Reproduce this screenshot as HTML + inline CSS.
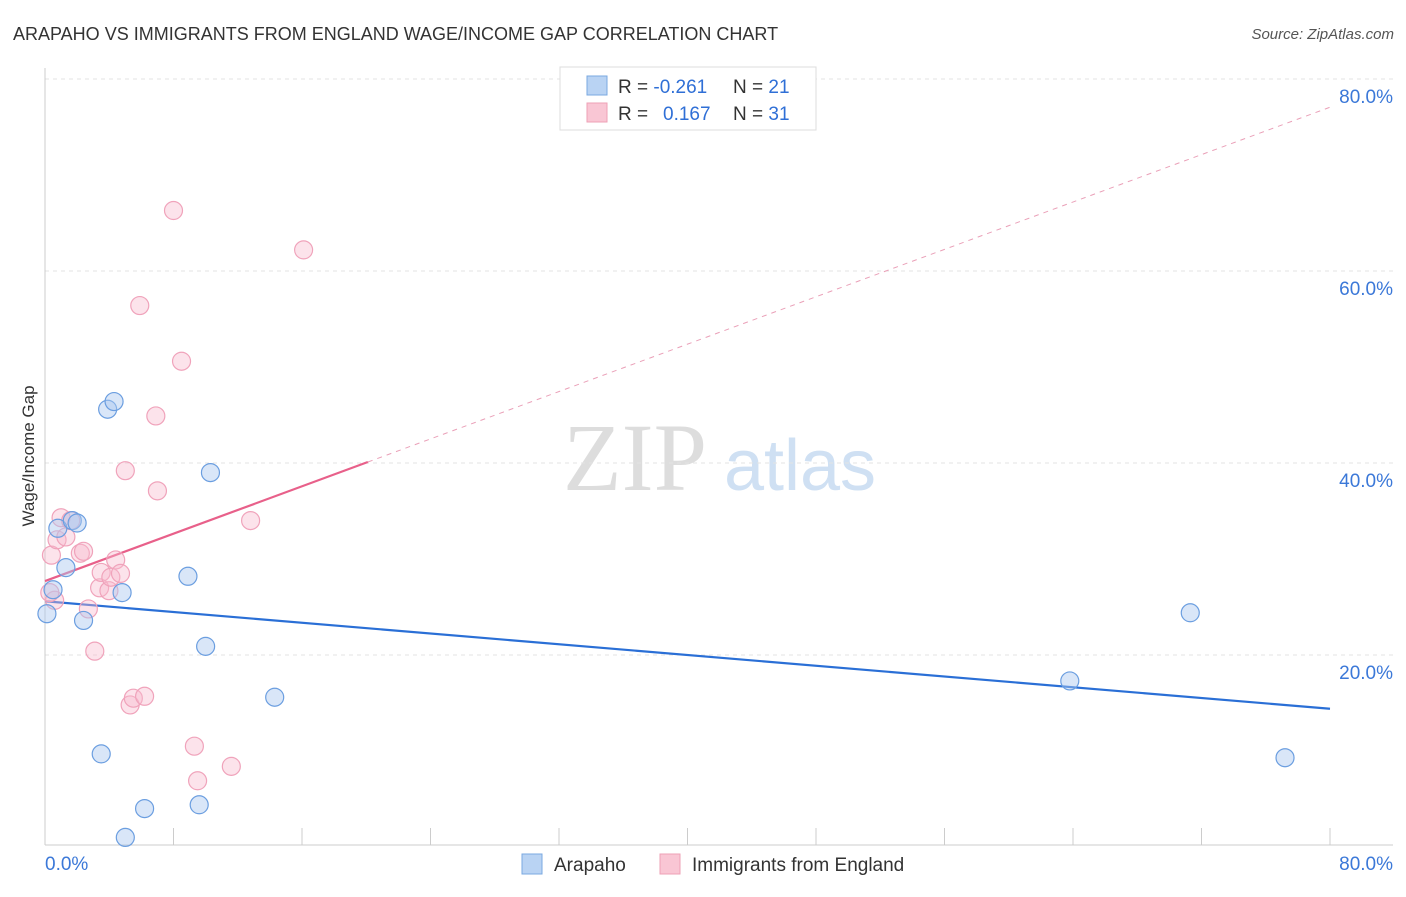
<!DOCTYPE html>
<html><head><meta charset="utf-8"><style>
body{margin:0;background:#fff;font-family:"Liberation Sans",sans-serif;}
</style></head><body>
<svg width="1406" height="892" xmlns="http://www.w3.org/2000/svg" style="font-family:'Liberation Sans',sans-serif">
<text x="13" y="40" font-size="18" fill="#333">ARAPAHO VS IMMIGRANTS FROM ENGLAND WAGE/INCOME GAP CORRELATION CHART</text>
<text x="1394" y="39" font-size="15" fill="#555" font-style="italic" text-anchor="end">Source: ZipAtlas.com</text>
<g>
<text x="635" y="490" font-size="96" fill="#ddd" font-family="Liberation Serif" text-anchor="middle">ZIP</text>
<text x="800" y="490" font-size="72" fill="#cfe0f3" text-anchor="middle">atlas</text>
</g>
<g id="grid"></g>
<g id="axes"></g>
<text transform="translate(34,456) rotate(-90)" font-size="17" fill="#333" text-anchor="middle">Wage/Income Gap</text>
<g id="lines"></g>
<g id="points"></g>
<g>
<rect x="560" y="67" width="256" height="63" fill="#fff" stroke="#ddd"/>
<rect x="587" y="76" width="20" height="19" fill="#b9d3f3" stroke="#7aa8e0"/>
<rect x="587" y="103" width="20" height="19" fill="#f9c6d4" stroke="#eea0b6"/>
<text x="618" y="93" font-size="19" fill="#333">R = <tspan fill="#2f6fd6">-0.261</tspan></text>
<text x="733" y="93" font-size="19" fill="#333">N = <tspan fill="#2f6fd6">21</tspan></text>
<text x="618" y="120" font-size="19" fill="#333">R = <tspan fill="#2f6fd6" x="663">0.167</tspan></text>
<text x="733" y="120" font-size="19" fill="#333">N = <tspan fill="#2f6fd6">31</tspan></text>
</g>
<g>
<rect x="522" y="854" width="20" height="20" fill="#b9d3f3" stroke="#7aa8e0"/>
<text x="554" y="871" font-size="19" fill="#333">Arapaho</text>
<rect x="660" y="854" width="20" height="20" fill="#f9c6d4" stroke="#eea0b6"/>
<text x="692" y="871" font-size="19" fill="#333">Immigrants from England</text>
</g>
</svg>
<script>
const blueX=[0.12,0.5,0.8,1.3,1.7,2.0,2.4,3.5,3.9,4.3,4.8,5.0,6.2,8.9,9.6,10.0,10.3,14.3,63.8,71.3,77.2];
const blueY=[24.3,26.8,33.2,29.1,34.0,33.75,23.6,9.7,45.6,46.4,26.5,1.0,4.0,28.2,4.4,20.9,39.0,15.6,17.3,24.4,9.3];
const pinkX=[0.4,0.6,0.75,1.0,1.3,1.6,2.2,2.4,2.7,3.1,3.4,3.5,3.98,4.1,4.4,4.7,5.0,5.3,5.5,5.9,6.2,6.9,7.0,8.0,8.5,9.3,9.5,11.6,12.8,16.1,0.3];
const pinkY=[30.4,25.7,32.0,34.3,32.3,34.0,30.6,30.8,24.8,20.4,27.0,28.6,26.7,28.1,29.9,28.5,39.2,14.8,15.5,56.4,15.7,44.9,37.1,66.3,50.6,10.5,6.9,8.4,34.0,62.2,26.5];
const yTicks=[20,40,60,80];
const blueTrend=[25.6,14.4];
const pinkTrend=[27.7,0.617];
const NS="http://www.w3.org/2000/svg";
const sx=v=>45+v*(1285/80);
const sy=v=>847-v*9.6;
function mk(t,a,p){const e=document.createElementNS(NS,t);for(const k in a)e.setAttribute(k,a[k]);p.appendChild(e);return e;}
const grid=document.getElementById('grid'),axes=document.getElementById('axes'),lines=document.getElementById('lines'),pts=document.getElementById('points');
yTicks.forEach(v=>{
const l=mk('line',{x1:45,x2:1393,y1:sy(v),y2:sy(v),stroke:'#e3e3e3','stroke-dasharray':'4,4'},grid);


const t=mk('text',{x:1393,y:sy(v)+24,'font-size':19,fill:'#3b78d8','text-anchor':'end'},grid);
t.textContent=v.toFixed(1)+'%';


});
const ya=mk('line',{x1:45,x2:45,y1:68,y2:845,stroke:'#ccc'},axes);


const xa=mk('line',{x1:45,x2:1393,y1:845,y2:845,stroke:'#ccc'},axes);


for(let i=0;i<=10;i++){const tk=mk('line',{x1:sx(i*8),x2:sx(i*8),y1:828,y2:845,stroke:'#ccc'},axes);

}
[[0,'start',45],[80,'end',1393]].forEach(([v,a,x])=>{const t=mk('text',{x:x,y:870,'font-size':19,fill:'#3b78d8','text-anchor':a},axes);t.textContent=v.toFixed(1)+'%';

});
const bl=mk('line',{x1:sx(0),y1:sy(blueTrend[0]),x2:sx(80),y2:sy(blueTrend[1]),stroke:'#2a6fd6','stroke-width':2.2},lines);


const pe=20.1;
const pl=mk('line',{x1:sx(0),y1:sy(pinkTrend[0]),x2:sx(pe),y2:sy(pinkTrend[0]+pinkTrend[1]*pe),stroke:'#e8608a','stroke-width':2.2},lines);


const pd=mk('line',{x1:sx(pe),y1:sy(pinkTrend[0]+pinkTrend[1]*pe),x2:sx(80),y2:sy(pinkTrend[0]+pinkTrend[1]*80),stroke:'#eaa0b8','stroke-width':1,'stroke-dasharray':'5,5'},lines);


pinkX.forEach((x,i)=>{const c=mk('circle',{cx:sx(x),cy:sy(pinkY[i]),r:9,fill:'rgba(248,185,205,0.4)',stroke:'#f0a3bb','stroke-width':1.2},pts);

});
blueX.forEach((x,i)=>{const c=mk('circle',{cx:sx(x),cy:sy(blueY[i]),r:9,fill:'rgba(170,200,240,0.45)',stroke:'#6b9ee0','stroke-width':1.2},pts);

});
</script>
</body></html>
